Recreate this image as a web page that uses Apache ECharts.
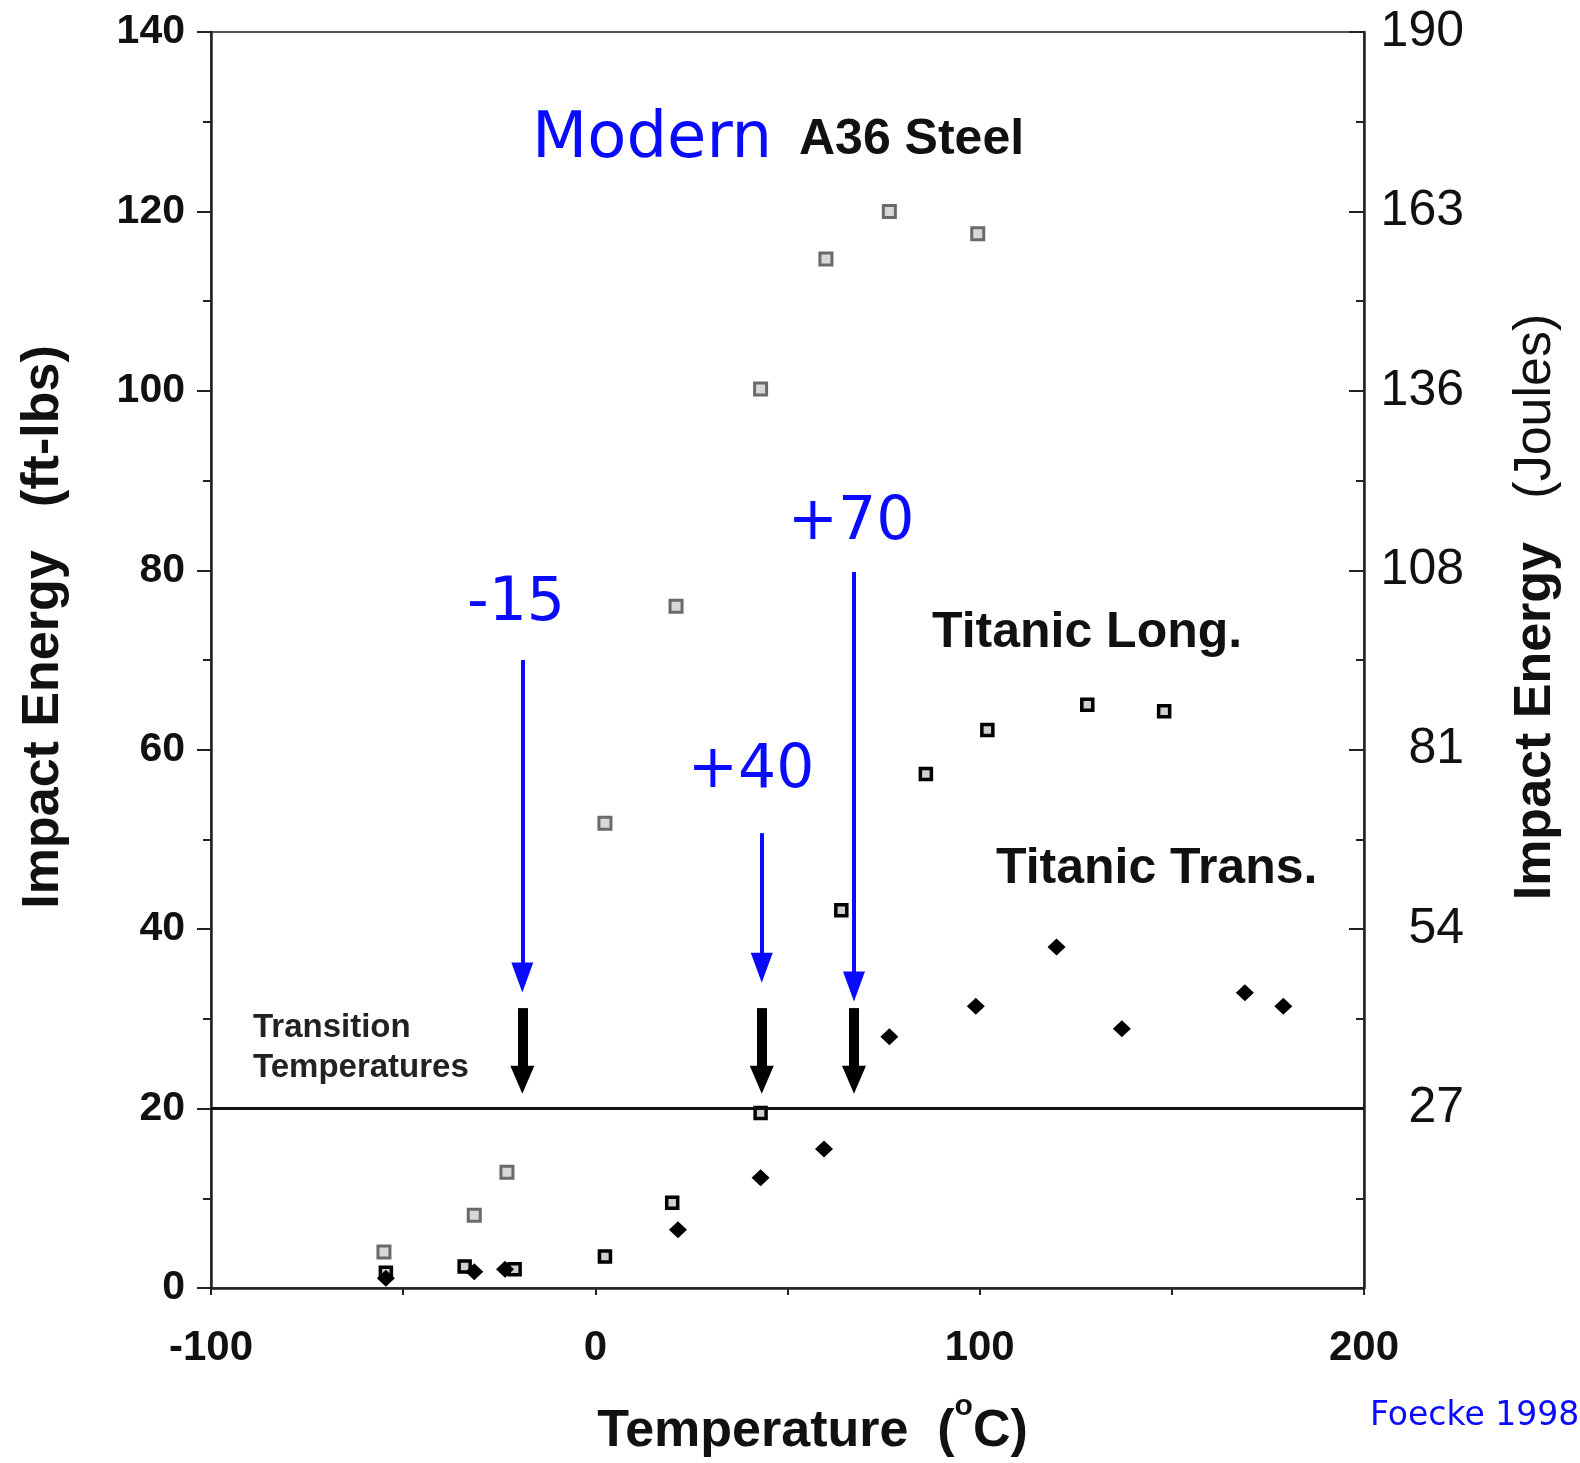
<!DOCTYPE html>
<html>
<head>
<meta charset="utf-8">
<title>Impact energy vs temperature</title>
<script src="https://cdn.jsdelivr.net/npm/echarts@6.0.0/dist/echarts.min.js"></script>
<style>
  html, body { margin: 0; padding: 0; background: #fff; }
  #chart { width: 1580px; height: 1463px; }
</style>
</head>
<body>
<div id="chart"></div>
<script>
// Charpy data (temperature in C, energy in ft-lbs)
const a36Temp = [-55, -31.5, -23, 2.5, 21, 43, 60, 76.5, 99.5];
const a36Energy = [4.0, 8.1, 12.9, 51.8, 76.0, 100.2, 114.7, 120.0, 117.5];

const longTemp = [-54.5, -34, -21, 2.5, 20, 43, 64, 86, 102, 128, 148];
const longEnergy = [1.7, 2.4, 2.1, 3.5, 9.5, 19.5, 42.1, 57.3, 62.2, 65.0, 64.3];

const transTemp = [-54.5, -31.5, -23.5, 21.5, 43, 59.5, 76.5, 99, 120, 137, 169, 179];
const transEnergy = [1.1, 1.8, 2.1, 6.5, 12.3, 15.5, 28.0, 31.4, 38.0, 28.9, 32.9, 31.4];

// right axis: joule equivalents of the ft-lb ticks
const ftlbTicks = [0, 20, 40, 60, 80, 100, 120, 140];
const joulesLabels = ['', '27', '54', '81', '108', '136', '163', '190'];

// transition temperature arrows
const threshold = 20;
const arrowTemp = [-19, 43.3, 67.3];
const arrowLabels = ['-15', '+40', '+70'];
const blueTop = [70, 50.7, 79.8];
const blueTip = [34.6, 35.7, 33.6];
const blackTop = 31.2;
const blackTip = 23.2;

const chart = echarts.init(document.getElementById('chart'));

const BLUE = '#0a0aff';
const INK = '#111';
const SANS = '"Liberation Sans", Arial, sans-serif';
const HAND = '"Comic Sans MS", "DejaVu Sans", sans-serif';

const option = {
  animation: false,
  backgroundColor: '#fff',
  grid: {
    left: 211, top: 32, right: 216, bottom: 175,
    outerBoundsMode: 'none',
    show: true, borderColor: '#555', borderWidth: 2
  },
  xAxis: {
    type: 'value',
    min: -100, max: 200, interval: 50,
    axisLine: { show: true, onZero: false, lineStyle: { color: '#222', width: 2.5 } },
    axisTick: { show: true, inside: false, length: 7, lineStyle: { color: '#222', width: 2 } },
    axisLabel: {
      formatter: v => (v % 100 === 0 ? String(v) : ''),
      fontFamily: SANS, fontSize: 42, fontWeight: 'bold', color: INK, margin: 39
    },
    splitLine: { show: false },
    name: 'Temperature  ({sup|o}C)',
    nameLocation: 'middle',
    nameGap: 104,
    nameTextStyle: {
      fontFamily: SANS, fontSize: 52, fontWeight: 'bold', color: INK,
      padding: [0, 0, 0, 50],
      rich: { sup: { fontFamily: SANS, fontSize: 30, fontWeight: 'bold', color: INK, padding: [0, 0, 50, 0] } }
    }
  },
  yAxis: [
    {
      type: 'value', position: 'left',
      min: 0, max: 140, interval: 20,
      axisLine: { show: true, onZero: false, lineStyle: { color: '#222', width: 2.5 } },
      axisTick: { show: true, inside: false, length: 14, lineStyle: { color: '#222', width: 2 } },
      minorTick: { show: true, splitNumber: 2, length: 8, lineStyle: { color: '#222', width: 2 } },
      axisLabel: { fontFamily: SANS, fontSize: 41, fontWeight: 'bold', color: INK, margin: 26 },
      splitLine: { show: false },
      name: 'Impact Energy   (ft-lbs)',
      nameLocation: 'middle',
      nameRotate: 90,
      nameGap: 141,
      nameTextStyle: { fontFamily: SANS, fontSize: 52, fontWeight: 'bold', color: INK, padding: [0, 0, 0, 66] }
    },
    {
      type: 'value', position: 'right',
      min: 0, max: 140, interval: 20,
      axisLine: { show: true, onZero: false, lineStyle: { color: '#222', width: 2.5 } },
      axisTick: { show: true, inside: true, length: 15, lineStyle: { color: '#222', width: 2 } },
      minorTick: { show: true, splitNumber: 2, length: 8, lineStyle: { color: '#222', width: 2 } },
      axisLabel: {
        formatter: v => joulesLabels[ftlbTicks.indexOf(v)] || '',
        fontFamily: SANS, fontSize: 50, color: INK, align: 'right', margin: 100
      },
      splitLine: { show: false },
      name: '{b|Impact Energy}   (Joules)',
      nameLocation: 'middle',
      nameRotate: 90,
      nameGap: 146,
      nameTextStyle: {
        fontFamily: SANS, fontSize: 52, color: INK, padding: [0, 0, 0, 106],
        rich: { b: { fontFamily: SANS, fontSize: 52, fontWeight: 'bold', color: INK } }
      }
    }
  ],
  series: [
    {
      name: 'Modern A36 Steel',
      type: 'scatter',
      symbol: 'rect',
      symbolSize: 12,
      itemStyle: { color: '#d8d8d8', borderColor: '#6a6a6a', borderWidth: 3, opacity: 1 },
      emphasis: { disabled: true },
      data: a36Temp.map((t, i) => [t, a36Energy[i]]),
      markLine: {
        silent: true,
        symbol: ['none', 'triangle'],
        symbolSize: [22, 30],
        lineStyle: { color: BLUE, width: 4, type: 'solid' },
        label: { show: false },
        data: arrowTemp.map((t, i) => [{ coord: [t, blueTop[i]] }, { coord: [t, blueTip[i]] }])
      }
    },
    {
      name: 'Titanic Long.',
      type: 'scatter',
      symbol: 'rect',
      symbolSize: 11,
      itemStyle: { color: '#d0d0d0', borderColor: '#000', borderWidth: 3.5, opacity: 1 },
      emphasis: { disabled: true },
      data: longTemp.map((t, i) => [t, longEnergy[i]]),
      markLine: {
        silent: true,
        symbol: ['none', 'triangle'],
        symbolSize: [24, 28],
        lineStyle: { color: '#000', width: 10, type: 'solid' },
        label: { show: false },
        data: arrowTemp.map(t => [{ coord: [t, blackTop] }, { coord: [t, blackTip] }])
      }
    },
    {
      name: 'Titanic Trans.',
      type: 'scatter',
      symbol: 'diamond',
      symbolSize: [18, 17],
      itemStyle: { color: '#000', opacity: 1 },
      emphasis: { disabled: true },
      data: transTemp.map((t, i) => [t, transEnergy[i]]),
      markLine: {
        silent: true,
        symbol: 'none',
        lineStyle: { color: '#111', width: 3, type: 'solid' },
        label: { show: false },
        data: [{ yAxis: threshold }]
      }
    }
  ],
  graphic: [
    { type: 'text', x: 532, y: 140, style: { text: 'Modern', font: '64px ' + HAND, fill: BLUE, align: 'left', verticalAlign: 'middle' } },
    { type: 'text', x: 799, y: 140, style: { text: 'A36 Steel', font: 'bold 50px ' + SANS, fill: INK, align: 'left', verticalAlign: 'middle' } },
    { type: 'text', x: 932, y: 633, style: { text: 'Titanic Long.', font: 'bold 50px ' + SANS, fill: INK, align: 'left', verticalAlign: 'middle' } },
    { type: 'text', x: 996, y: 869, style: { text: 'Titanic Trans.', font: 'bold 50px ' + SANS, fill: INK, align: 'left', verticalAlign: 'middle' } },
    { type: 'text', x: 253, y: 1028, style: { text: 'Transition', font: 'bold 33px ' + SANS, fill: '#222', align: 'left', verticalAlign: 'middle' } },
    { type: 'text', x: 253, y: 1068, style: { text: 'Temperatures', font: 'bold 33px ' + SANS, fill: '#222', align: 'left', verticalAlign: 'middle' } },
    { type: 'text', x: 516, y: 604, style: { text: arrowLabels[0], font: '60px ' + HAND, fill: BLUE, align: 'center', verticalAlign: 'middle' } },
    { type: 'text', x: 751, y: 771, style: { text: arrowLabels[1], font: '60px ' + HAND, fill: BLUE, align: 'center', verticalAlign: 'middle' } },
    { type: 'text', x: 851, y: 523, style: { text: arrowLabels[2], font: '60px ' + HAND, fill: BLUE, align: 'center', verticalAlign: 'middle' } },
    { type: 'text', x: 1370, y: 1416, style: { text: 'Foecke 1998', font: '33px ' + HAND, fill: BLUE, align: 'left', verticalAlign: 'middle' } }
  ]
};

chart.setOption(option);
</script>
</body>
</html>
